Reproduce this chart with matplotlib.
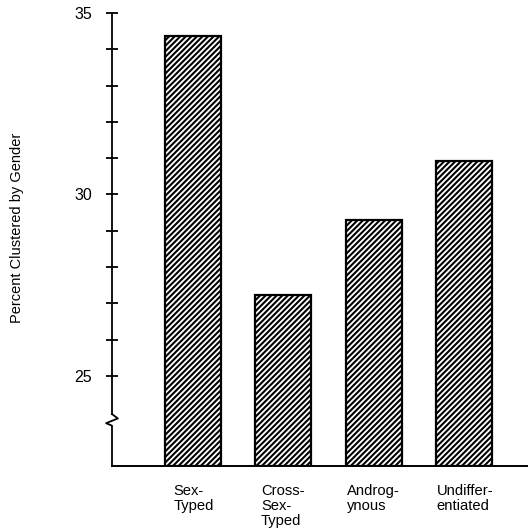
import matplotlib
matplotlib.use('Agg')
import matplotlib.pyplot as plt

categories = ['Sex-\nTyped', 'Cross-\nSex-\nTyped', 'Androg-\nynous', 'Undiffer-\nentiated']
values = [34.37, 27.22, 29.31, 30.91]
major_ticks = [25, 30, 35]
minor_ticks = [25, 26, 27, 28, 29, 30, 31, 32, 33, 34, 35]

plt.rcParams['font.family'] = ['Liberation Sans', 'DejaVu Sans']
plt.rcParams['hatch.linewidth'] = 1.5

W = 529
fig = plt.figure(figsize=(5.29, 5.29), dpi=100)
# axes box in pixel coords
left, right, top, bottom = 112, 527, 13, 466
ax = fig.add_axes([left / W, 1 - bottom / W, (right - left) / W, (bottom - top) / W])

ymin, ymax = 22.52, 35
ax.set_ylim(ymin, ymax)
ax.set_xlim(-0.9, 3.7)

x = range(len(values))
ax.bar(x, [v - ymin for v in values], bottom=ymin, width=0.62,
       color='white', edgecolor='black', linewidth=1.6, hatch='//////', zorder=2)

for s in ['top', 'right', 'left']:
    ax.spines[s].set_visible(False)
ax.spines['bottom'].set_linewidth(1.4)

# left axis with a break mark
brk = 23.95
ax.plot([-0.9, -0.9], [ymax, brk], color='black', lw=1.3, clip_on=False, zorder=3)
zx = [-0.9, -0.835, -0.965, -0.9, -0.9]
zy = [brk, brk - 0.12, brk - 0.25, brk - 0.32, ymin]
ax.plot(zx, zy, color='black', lw=1.3, clip_on=False, zorder=3)

ax.set_yticks(minor_ticks)
ax.set_yticklabels([str(t) if t in major_ticks else '' for t in minor_ticks])
ax.tick_params(axis='y', direction='inout', length=9, width=1.3, pad=10, labelsize=11.5)
ax.set_xticks([])

# category labels, left aligned under bars
offsets = [-0.22, -0.25, -0.30, -0.30]
for i, (lab, off) in enumerate(zip(categories, offsets)):
    ax.text(i + off, ymin - 0.5, lab, ha='left', va='top', fontsize=10.6,
            linespacing=1.1)

fig.text(17 / W, 1 - 228 / W, 'Percent Clustered by Gender', rotation=90,
         ha='center', va='center', fontsize=10.5)

fig.savefig('out.png', dpi=100)
